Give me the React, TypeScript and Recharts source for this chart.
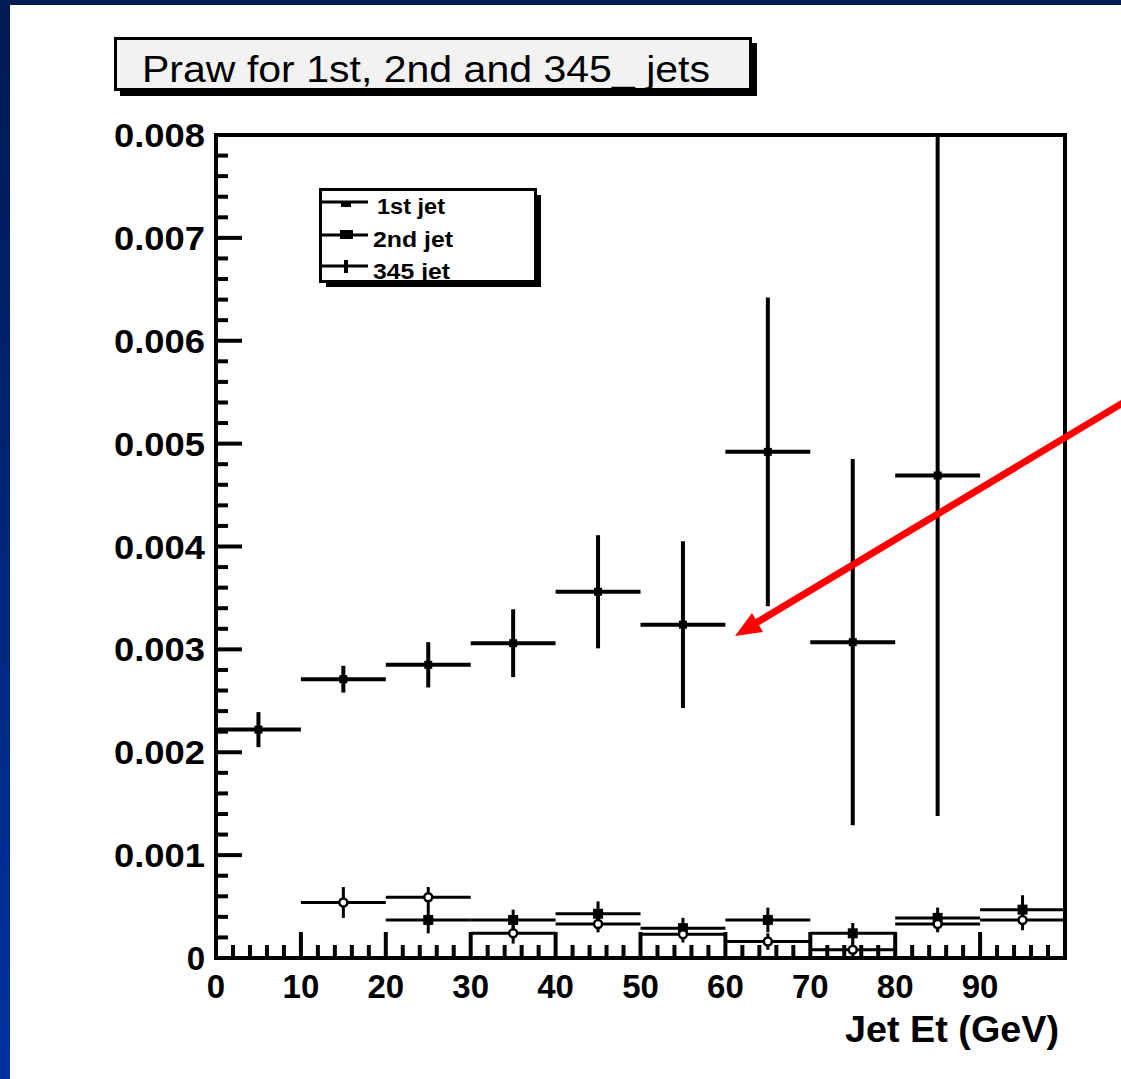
import React from 'react';
import { ScatterChart, Scatter, XAxis, YAxis, ErrorBar, ReferenceArea } from 'recharts';

// bins of 10 GeV, points drawn at bin centres
const binCenters = [5, 15, 25, 35, 45, 55, 65, 75, 85, 95];
const binHalfWidth = 5;

const jet1Values = [0.00222, 0.00271, 0.00285, 0.00306, 0.00356, 0.00324, 0.00492, 0.00307, 0.00469, null];
const jet1Errors = [0.00017, 0.00013, 0.00022, 0.00033, 0.00055, 0.00081, 0.0015, 0.00178, 0.00331, null];

const jet2Values = [null, null, 0.00037, 0.00037, 0.00043, 0.00029, 0.00037, 0.00024, 0.00039, 0.00047];
const jet2Errors = [null, null, 0.00013, 0.0001, 0.00012, 0.0001, 0.00012, 0.0001, 0.0001, 0.00014];

const jet3Values = [null, 0.00054, 0.00059, 0.00024, 0.00033, 0.00023, 0.00016, 0.00008, 0.00033, 0.00037];
const jet3Errors = [null, 0.00015, 0.0001, 0.0001, 0.00008, 0.00008, 0.00008, 0.00008, 0.00008, 0.0001];

const xTickLabels = ['0', '10', '20', '30', '40', '50', '60', '70', '80', '90'];
const yTickLabels = ['0', '0.001', '0.002', '0.003', '0.004', '0.005', '0.006', '0.007', '0.008'];

const legendNames = ['1st jet', '2nd jet', '345 jet'];

const xTicks = Array.from({ length: 51 }, (_, i) => i * 2);
const yTicks = Array.from({ length: 41 }, (_, i) => i * 0.0002);

const FONT = '"Liberation Sans", Arial, sans-serif';

const toPoints = (vals: (number | null)[], errs: (number | null)[]) =>
  binCenters
    .map((x, i) => ({ x, y: vals[i], ex: binHalfWidth, ey: errs[i] }))
    .filter((p) => p.y != null);

const jet1Data = toPoints(jet1Values, jet1Errors);
const jet2Data = toPoints(jet2Values, jet2Errors);
const jet3Data = toPoints(jet3Values, jet3Errors);

const XTick = (props: any) => {
  const { x, y, payload } = props;
  const i = Math.round(payload.value / 2);
  const major = i % 5 === 0;
  const label = major ? xTickLabels[i / 5] : undefined;
  return (
    <g>
      <line x1={x} y1={y} x2={x} y2={y - (major ? 26 : 13)} stroke="#000" strokeWidth={4} />
      {label && (
        <text x={x} y={y + 40} textAnchor="middle" fontFamily={FONT} fontWeight={700} fontSize={33} fill="#000">
          {label}
        </text>
      )}
    </g>
  );
};

const YTick = (props: any) => {
  const { x, y, payload } = props;
  const i = Math.round(payload.value / 0.0002);
  const major = i % 5 === 0;
  const label = major ? yTickLabels[i / 5] : undefined;
  return (
    <g>
      <line x1={x} y1={y} x2={x + (major ? 26 : 12)} y2={y} stroke="#000" strokeWidth={4} />
      {label && (
        <text
          x={x - 11}
          y={y + 12}
          textAnchor="end"
          fontFamily={FONT}
          fontWeight={700}
          fontSize={33}
          fill="#000"
          {...(label.length > 1 ? { textLength: 91, lengthAdjust: 'spacingAndGlyphs' } : {})}
        >
          {label}
        </text>
      )}
    </g>
  );
};

const SmallSquare = (p: any) => <rect x={p.cx - 4} y={p.cy - 4} width={8} height={8} fill="#000" />;
const BigSquare = (p: any) => <rect x={p.cx - 5} y={p.cy - 5} width={10} height={10} fill="#000" />;
const OpenCircle = (p: any) => <circle cx={p.cx} cy={p.cy} r={4} fill="#fff" stroke="#000" strokeWidth={2.5} />;

export default function App() {
  return (
    <div style={{ position: 'absolute', left: 0, top: 0, width: 1121, height: 1079, background: '#fff', overflow: 'hidden' }}>
      <ScatterChart width={1121} height={1079} margin={{ top: 135, right: 56, bottom: 61, left: 156 }}>
        <XAxis
          type="number"
          dataKey="x"
          domain={[0, 100]}
          ticks={xTicks}
          interval={0}
          allowDataOverflow
          axisLine={false}
          tickLine={false}
          tickSize={0}
          tickMargin={0}
          height={60}
          tick={<XTick />}
        />
        <YAxis
          type="number"
          dataKey="y"
          domain={[0, 0.008]}
          ticks={yTicks}
          interval={0}
          allowDataOverflow
          axisLine={false}
          tickLine={false}
          tickSize={0}
          tickMargin={0}
          width={60}
          tick={<YTick />}
        />
        <ReferenceArea x1={0} x2={100} y1={0} y2={0.008} fill="none" stroke="#000" strokeWidth={4} />
        <Scatter name={legendNames[0]} data={jet1Data} shape={SmallSquare} isAnimationActive={false}>
          <ErrorBar dataKey="ex" direction="x" width={0} stroke="#000" strokeWidth={4} isAnimationActive={false} />
          <ErrorBar dataKey="ey" direction="y" width={0} stroke="#000" strokeWidth={4} isAnimationActive={false} />
        </Scatter>
        <Scatter name={legendNames[1]} data={jet2Data} shape={BigSquare} isAnimationActive={false}>
          <ErrorBar dataKey="ex" direction="x" width={0} stroke="#000" strokeWidth={3} isAnimationActive={false} />
          <ErrorBar dataKey="ey" direction="y" width={0} stroke="#000" strokeWidth={3} isAnimationActive={false} />
        </Scatter>
        <Scatter name={legendNames[2]} data={jet3Data} shape={OpenCircle} isAnimationActive={false}>
          <ErrorBar dataKey="ex" direction="x" width={0} stroke="#000" strokeWidth={3} isAnimationActive={false} />
          <ErrorBar dataKey="ey" direction="y" width={0} stroke="#000" strokeWidth={3} isAnimationActive={false} />
        </Scatter>
      </ScatterChart>

      <svg width={1121} height={1079} style={{ position: 'absolute', left: 0, top: 0, pointerEvents: 'none' }}>
        <defs>
          <linearGradient id="leftBand" x1="0" y1="0" x2="0" y2="1">
            <stop offset="0" stopColor="#001a52" />
            <stop offset="1" stopColor="#0033a0" />
          </linearGradient>
        </defs>
        <rect x={0} y={0} width={1121} height={5} fill="#001c55" />
        <rect x={0} y={0} width={10} height={1079} fill="url(#leftBand)" />

        {/* title box */}
        <rect x={120} y={43} width={637} height={53} fill="#000" />
        <rect x={115.5} y={38.5} width={635} height={51} fill="#f2f2f2" stroke="#000" strokeWidth={3} />
        <text x={142} y={82} fontFamily={FONT} fontSize={36} fill="#000" textLength={568} lengthAdjust="spacingAndGlyphs">
          Praw for 1st, 2nd and 345_ jets
        </text>
        <text x={1059} y={1042} textAnchor="end" fontFamily={FONT} fontWeight={700} fontSize={36} fill="#000" textLength={214} lengthAdjust="spacingAndGlyphs">
          Jet Et (GeV)
        </text>

        {/* legend */}
        <rect x={326} y={195} width={215} height={92} fill="#000" />
        <rect x={320.5} y={189.5} width={215} height={92} fill="#fff" stroke="#000" strokeWidth={3} />
        <line x1={322} y1={202} x2={368} y2={202} stroke="#000" strokeWidth={3} />
        <rect x={341} y={201} width={10} height={6} fill="#000" />
        <line x1={322} y1={235} x2={368} y2={235} stroke="#000" strokeWidth={3} />
        <rect x={340} y={230} width={13} height={9} fill="#000" />
        <line x1={322} y1={266} x2={368} y2={266} stroke="#000" strokeWidth={3} />
        <line x1={346} y1={260} x2={346} y2={273} stroke="#000" strokeWidth={4} />
        <text x={377} y={214} fontFamily={FONT} fontWeight={700} fontSize={22} fill="#000" textLength={68} lengthAdjust="spacingAndGlyphs">
          {legendNames[0]}
        </text>
        <text x={373} y={247} fontFamily={FONT} fontWeight={700} fontSize={22} fill="#000" textLength={80} lengthAdjust="spacingAndGlyphs">
          {legendNames[1]}
        </text>
        <text x={373} y={279} fontFamily={FONT} fontWeight={700} fontSize={22} fill="#000" textLength={77} lengthAdjust="spacingAndGlyphs">
          {legendNames[2]}
        </text>

        {/* red arrow */}
        <line x1={1126} y1={401} x2={756} y2={623} stroke="#ff0000" strokeWidth={7} />
        <polygon points="735,636 752,613 763,632" fill="#ff0000" />
      </svg>
    </div>
  );
}
